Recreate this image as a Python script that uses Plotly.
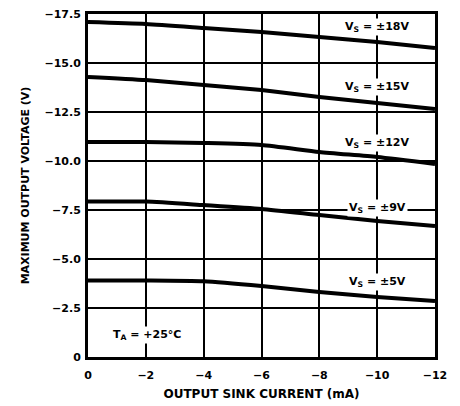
import plotly.graph_objects as go

current = [0, -2, -4, -6, -8, -10, -12]
v18 = [-17.09, -16.99, -16.79, -16.58, -16.33, -16.07, -15.77]
v15 = [-14.29, -14.13, -13.88, -13.62, -13.27, -12.96, -12.65]
v12 = [-10.97, -10.97, -10.92, -10.82, -10.46, -10.20, -9.85]
v9 = [-7.93, -7.93, -7.75, -7.55, -7.24, -6.94, -6.68]
v5 = [-3.90, -3.90, -3.86, -3.62, -3.32, -3.06, -2.86]

series = [("±18V", v18), ("±15V", v15), ("±12V", v12), ("±9V", v9), ("±5V", v5)]
label_y = [-16.84, -13.78, -10.92, -7.6, -3.83]

x_ticks = [0, -2, -4, -6, -8, -10, -12]
x_ticktext = ["<b>0</b>", "<b>−2</b>", "<b>−4</b>", "<b>−6</b>", "<b>−8</b>", "<b>−10</b>", "<b>−12</b>"]
y_ticks = [0, -2.5, -5, -7.5, -10, -12.5, -15, -17.5]
y_ticktext = ["<b>0</b>", "<b>−2.5</b>", "<b>−5.0</b>", "<b>−7.5</b>", "<b>−10.0</b>",
              "<b>−12.5</b>", "<b>−15.0</b>", "<b>−17.5</b>"]

FONT = "DejaVu Sans, Liberation Sans, Arial, sans-serif"

fig = go.Figure()
for name, vals in series:
    fig.add_trace(go.Scatter(x=current, y=vals, mode="lines", name=name,
                             line=dict(color="black", width=4, shape="spline", smoothing=0.6),
                             showlegend=False, hoverinfo="skip"))

annotations = []
for (name, _), ly in zip(series, label_y):
    annotations.append(dict(x=-10, y=ly, xref="x", yref="y",
                            text="<b>V<sub>S</sub> = " + name + "</b>", showarrow=False,
                            bgcolor="white", borderpad=1,
                            font=dict(family=FONT, size=11, color="black")))
annotations.append(dict(x=-2.05, y=-1.1, xref="x", yref="y",
                        text="<b>T<sub>A</sub> = +25°C</b>", showarrow=False,
                        bgcolor="white", borderpad=1,
                        font=dict(family=FONT, size=11, color="black")))

# page body adds an 8px offset; size the figure to fit the 460x406 window
fig.update_layout(
    template="none",
    width=452, height=398,
    margin=dict(l=80, r=25, t=6, b=49, autoexpand=False),
    paper_bgcolor="white", plot_bgcolor="white",
    font=dict(family=FONT, color="black", size=11),
    annotations=annotations,
    xaxis=dict(range=[0, -12], tickmode="array", tickvals=x_ticks, ticktext=x_ticktext,
               showgrid=True, gridcolor="black", gridwidth=2, zeroline=False,
               showline=True, linecolor="black", linewidth=3, mirror=True,
               ticks="", ticklabelstandoff=6, automargin=False, ticklabeloverflow="allow",
               tickfont=dict(family=FONT, size=11, color="black"),
               title=dict(text="<b>OUTPUT SINK CURRENT (mA)</b>", standoff=9,
                          font=dict(family=FONT, size=12, color="black"))),
    yaxis=dict(range=[0, -17.5], tickmode="array", tickvals=y_ticks, ticktext=y_ticktext,
               showgrid=True, gridcolor="black", gridwidth=2, zeroline=False,
               showline=True, linecolor="black", linewidth=3, mirror=True,
               ticks="", ticklabelstandoff=2, automargin=False, ticklabeloverflow="allow",
               tickfont=dict(family=FONT, size=11, color="black"),
               title=dict(text="<b>MAXIMUM OUTPUT VOLTAGE (V)</b>", standoff=13,
                          font=dict(family=FONT, size=11, color="black"))),
)

fig.write_html("out.html")
